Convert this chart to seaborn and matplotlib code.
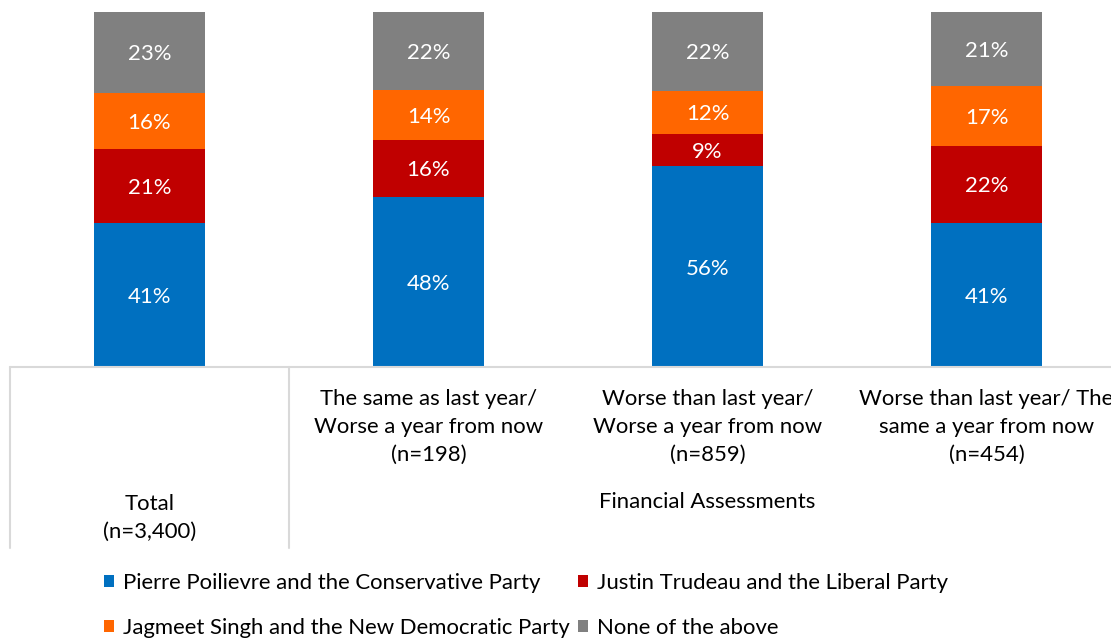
import numpy as np
import pandas as pd
import matplotlib
matplotlib.use("Agg")
import matplotlib.pyplot as plt
import matplotlib.transforms as mtransforms
from matplotlib.patches import Patch
import seaborn as sns

categories = ["Total", "Same/Worse", "Worse/Worse", "Worse/Same"]
cat_labels = [
    "Total\n(n=3,400)",
    "The same as last year/\nWorse a year from now\n(n=198)",
    "Worse than last year/\nWorse a year from now\n(n=859)",
    "Worse than last year/ The\nsame a year from now\n(n=454)",
]
group_label = "Financial Assessments"
series = [
    "Pierre Poilievre and the Conservative Party",
    "Justin Trudeau and the Liberal Party",
    "Jagmeet Singh and the New Democratic Party",
    "None of the above",
]
conservative = [41, 48, 56, 41]
liberal = [21, 16, 9, 22]
ndp = [16, 14, 12, 17]
none_above = [23, 22, 22, 21]
colors = ["#0070C0", "#C00000", "#FF6600", "#808080"]

sns.set_theme(style="white")
plt.rcParams["font.family"] = ["Lato", "DejaVu Sans"]

W, H = 1111, 638
fig = plt.figure(figsize=(W / 100, H / 100), dpi=100)
ax = fig.add_axes([10 / W, (H - 367) / H, 1116 / W, 355 / H])

vals = np.array([conservative, liberal, ndp, none_above], dtype=float)
tot = vals.sum(axis=0)
norm = vals / tot * 100
cum = np.cumsum(norm, axis=0)

# draw cumulative from top layer down
for i in range(3, -1, -1):
    df = pd.DataFrame({"cat": categories, "val": cum[i]})
    sns.barplot(data=df, x="cat", y="val", order=categories, color=colors[i],
                width=0.4, ax=ax, saturation=1, edgecolor="none", linewidth=0)

fs = 15.9
lab_trans = ax.transData + mtransforms.ScaledTranslation(0, -2 / 100, fig.dpi_scale_trans)
for i in range(4):
    bottoms = cum[i] - norm[i]
    for j in range(4):
        ax.text(j, bottoms[j] + norm[i][j] / 2, f"{int(vals[i][j])}%",
                ha="center", va="center", color="white", fontsize=fs,
                transform=lab_trans)

ax.set_xlim(-0.5, 3.5)
ax.set_ylim(0, 100)
ax.set_xlabel("")
ax.set_ylabel("")
ax.set_xticks([])
ax.set_yticks([])
for s in ax.spines.values():
    s.set_visible(False)

trans = mtransforms.blended_transform_factory(ax.transData, fig.transFigure)
def fy(p):
    return 1 - p / H

# baseline and category separators
ax.plot([-0.5, 3.5], [fy(367)] * 2, transform=trans, color="#D9D9D9", lw=1.5, clip_on=False)
for xv in [-0.5, 0.5]:
    ax.plot([xv, xv], [fy(367), fy(548)], transform=trans, color="#D9D9D9", lw=1.5, clip_on=False)

txt_color = "#000000"
ax.text(0, fy(494), cat_labels[0], transform=trans, ha="center", va="top",
        fontsize=fs, color=txt_color, linespacing=1.5)
for j in range(1, 4):
    ax.text(j, fy(389), cat_labels[j], transform=trans, ha="center", va="top",
            fontsize=fs, color=txt_color, linespacing=1.5)
ax.text(2, fy(502), group_label, transform=trans, ha="center", va="center",
        fontsize=fs, color=txt_color)

# legend entries, one per series, placed like the reference
legend_pos = [(104, 583), (578, 583), (104, 628), (578, 628)]
for (lx, ly), name, c in zip(legend_pos, series, colors):
    leg = fig.legend([Patch(facecolor=c, edgecolor="none")], [name],
                     loc="center left", bbox_to_anchor=(lx / W, fy(ly)),
                     frameon=False, fontsize=fs, handlelength=0.47, handleheight=0.47,
                     handletextpad=0.4, borderpad=0, borderaxespad=0,
                     labelcolor="#000000")

fig.savefig("out.png", dpi=100)
